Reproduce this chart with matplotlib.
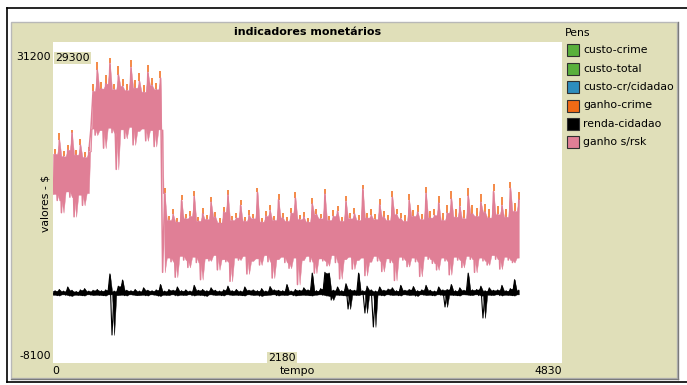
import numpy as np
import matplotlib
matplotlib.use("Agg")
import matplotlib.pyplot as plt
from matplotlib.patches import Rectangle
from matplotlib.lines import Line2D

# ---------------- data ----------------
title = "indicadores monetários"
x_label = "tempo"
y_label = "valores - $"
x_min, x_max = 0, 4830
y_min, y_max = -8100, 31200
pens = ["custo-crime", "custo-total", "custo-cr/cidadao", "ganho-crime", "renda-cidadao", "ganho s/rsk"]
pen_colors = ["#59B03C", "#59B03C", "#2D8DBE", "#F16A15", "#000000", "#E07F96"]

bin_width = 40   # ticks per sampled bin

# ganho s/rsk (pink) – per-bin highs and lows
pink_hi = [17500, 19200, 17200, 18000, 20100, 17400, 18600, 17100, 17800,
           25200, 27800, 25500, 26100, 28600, 25400, 27200, 25800, 25300,
           28100, 25600, 26400, 25100, 27500, 25900, 25400, 26800,
           12700, 9400, 10100, 9200, 11800, 9600, 9900, 12300, 9300, 10200,
           9500, 11600, 9800, 9100, 10400, 12500, 9400, 9700, 11200, 9300,
           10000, 9600, 12800, 9200, 9900, 10600, 9400, 11900, 9700, 9300,
           10300, 12100, 9500, 9800, 9200, 11400, 10100, 9600, 12600, 9400,
           9900, 10500, 9300, 11700, 9600, 10200, 9400, 13200, 9700, 10000,
           9500, 11300, 9800, 9400, 12200, 10100, 9600, 9300, 11800, 9900,
           10400, 9500, 12700, 9700, 10000, 11500, 9400, 10300, 12000, 9800,
           11100, 9600, 12400, 10200, 9900, 11600, 10400, 9700, 12900, 10100,
           11200, 9800, 13300, 10500, 11900]
pink_lo = [12600, 11800, 10300, 12900, 12200, 9800, 12500, 11200, 12700,
           20600, 19800, 20400, 18200, 20700, 20100, 15600, 20500, 19400,
           20800, 18600, 20300, 20600, 19100, 20400, 18400, 20500,
           3000, 4800, 4300, 2400, 5000, 4500, 3600, 4900, 4200, 2100,
           4700, 4400, 5100, 3300, 4600, 4300, 1900, 4800, 4500, 5000,
           2800, 4400, 4700, 3900, 5100, 4300, 2300, 4600, 4900, 4200,
           3500, 4800, 1500, 4500, 5000, 4300, 2900, 4700, 4400, 3800,
           5100, 4200, 2200, 4600, 4900, 3400, 4500, 4800, 2600, 4300,
           5000, 4400, 3100, 4700, 4200, 2000, 4900, 4500, 3700, 4800,
           4300, 2500, 5000, 4600, 4100, 3300, 4800, 4400, 2700, 4900,
           4500, 3600, 5000, 4600, 3000, 4800, 4400, 3900, 5100, 4600,
           3400, 4900, 4500, 4200, 4800]
# ganho-crime (orange) – per-bin highs (the rest of the trace lies under the pink band)
orange_hi = [18100, 20100, 17800, 18600, 20400, 18000, 19300, 17700, 18400,
             26000, 28700, 26300, 27200, 29300, 26100, 28300, 26700, 26000,
             29000, 26500, 27400, 25900, 28400, 26800, 26200, 27700,
             13300, 9900, 10700, 9700, 12500, 10100, 10500, 12900, 9800, 10900,
             10000, 12200, 10400, 9600, 11000, 13100, 9900, 10300, 11900, 9800,
             10600, 10200, 13300, 9700, 10500, 11200, 9900, 12600, 10300, 9800,
             10900, 12800, 10000, 10400, 9700, 12100, 10800, 10200, 13200, 9900,
             10600, 11100, 9800, 12300, 10300, 10900, 10000, 13700, 10300, 10700,
             10100, 12000, 10500, 10000, 12900, 10800, 10300, 10000, 12600, 10600,
             11200, 10200, 13400, 10500, 10800, 12400, 10300, 11200, 12900, 10700,
             12100, 10600, 13300, 11200, 10900, 12600, 11400, 10700, 13800, 11100,
             12200, 10800, 14000, 11500, 12800]
# renda-cidadao (black)
black_hi = [750, 900, 700, 1200, 800, 650, 850, 1000, 700, 800,
            900, 750, 850, 2800, 700, 1300, 2050, 800, 750, 900,
            700, 1100, 800, 750, 850, 1500, 700, 900, 800, 1200,
            750, 850, 700, 1400, 800, 900, 750, 1100, 800, 700,
            850, 1300, 750, 900, 700, 1200, 800, 850, 750, 1000,
            700, 1250, 850, 800, 750, 1500, 700, 900, 800, 1100,
            850, 2900, 750, 1000, 3000, 2900, 800, 1200, 750, 1600,
            900, 800, 2900, 750, 1300, 850, 700, 1200, 800, 950,
            1100, 750, 1400, 800, 900, 1250, 750, 850, 1400, 800,
            700, 1200, 850, 900, 1500, 750, 1100, 800, 2900, 850,
            900, 1300, 750, 1100, 800, 850, 1400, 750, 1000, 2100, 800]
black_lo = [250, 150, 300, 200, 100, 250, 200, 150, 300, 200,
            250, 200, 150, 300, -4670, 200, 250, 150, 300, 200,
            200, 250, 150, 300, 200, 100, 250, 200, 300, 150,
            250, 200, 300, 150, 250, 200, 100, 300, 200, 250,
            150, 300, 200, 250, 200, 150, 300, 200, 250, 100,
            200, 250, 300, 150, 250, 200, 300, 150, 200, 250,
            200, 150, 250, 300, 200, 100, -390, 250, 200, 150,
            -1490, 250, 200, 300, -1980, 200, -3690, 250, 150, 300,
            200, 250, 150, 300, 200, 250, 100, 300, 200, 250,
            150, 300, 200, -1240, 250, 200, 150, 300, 250, 200,
            300, 150, -2590, 250, 200, 300, 150, 250, 200, 150, 300]
marker_top = "29300"
marker_bottom = "2180"

# ---------------- figure ----------------
W, H = 687, 385
fig = plt.figure(figsize=(W / 100, H / 100), dpi=100)
fig.patch.set_facecolor("white")
plt.rcParams["font.family"] = ["DejaVu Sans"]

def fx(x):
    return x / W

def fy(y):
    return 1 - y / H

beige = "#E0DFB9"
# outer black frame
for (x0, y0, x1, y1) in [(6.5, 7.5, 687, 7.5), (6.5, 7.5, 6.5, 381.5), (6.5, 381.5, 687, 381.5)]:
    fig.add_artist(Line2D([fx(x0), fx(x1)], [fy(y0), fy(y1)], color="black", lw=1.2, zorder=-2))
# beige panel
fig.add_artist(Rectangle((fx(11), fy(378)), fx(677) - fx(11), fy(22) - fy(378),
                         facecolor=beige, edgecolor="#B8B8B8", lw=1.0, zorder=-2))
fig.add_artist(Line2D([fx(677.5), fx(677.5)], [fy(22), fy(378.5)], color="#7A7A7A", lw=1.0, zorder=-1))
fig.add_artist(Line2D([fx(11), fx(677.5)], [fy(378.5), fy(378.5)], color="#7A7A7A", lw=1.0, zorder=-1))

ax = fig.add_axes([fx(53), fy(363), fx(562) - fx(53), fy(42) - fy(363)])
ax.set_zorder(1)
ax.set_facecolor("white")
ax.set_xlim(x_min, x_max)
ax.set_ylim(y_min, y_max)
ax.set_xticks([])
ax.set_yticks([])
for s in ax.spines.values():
    s.set_visible(False)

n = len(pink_hi)
t_a = np.arange(n) * bin_width          # bin edges
t_b = t_a + bin_width / 2               # bin centres (extreme values)
tt = np.column_stack([t_a, t_b]).ravel()

def band_edges(lo, hi):
    lo = np.asarray(lo, float)
    hi = np.asarray(hi, float)
    prev_hi = np.concatenate([[hi[0]], hi[:-1]])
    prev_lo = np.concatenate([[lo[0]], lo[:-1]])
    upper = np.column_stack([np.minimum(prev_hi, hi), hi]).ravel()
    lower = np.column_stack([np.maximum(prev_lo, lo), lo]).ravel()
    return lower, upper

def zigzag(lo, hi):
    return np.column_stack([lo, hi]).ravel()

# ganho-crime: only its tips rise above the pink band
ax.vlines(t_b, pink_hi, orange_hi, color=pen_colors[3], lw=1.1)
# renda-cidadao
lower, upper = band_edges(black_lo, black_hi)
ax.fill_between(tt, lower, upper, color=pen_colors[4], lw=0.3)
ax.plot(tt, zigzag(black_lo, black_hi), color=pen_colors[4], lw=0.8)
# ganho s/rsk
lower, upper = band_edges(pink_lo, pink_hi)
ax.fill_between(tt, lower, upper, color=pen_colors[5], lw=0.3)
ax.plot(tt, zigzag(pink_lo, pink_hi), color=pen_colors[5], lw=1.1)

fs = 7.8
# title
fig.text(fx(308), fy(32), title, ha="center", va="center", fontsize=8.0, fontweight="bold", zorder=3)
# axis extent labels
fig.text(fx(51), fy(57), f"{y_max}", ha="right", va="center", fontsize=fs, zorder=3)
fig.text(fx(51), fy(356), f"{y_min}", ha="right", va="center", fontsize=fs, zorder=3)
fig.text(fx(56), fy(371), f"{x_min}", ha="center", va="center", fontsize=fs, zorder=3)
fig.text(fx(548), fy(371), f"{x_max}", ha="center", va="center", fontsize=fs, zorder=3)
fig.text(fx(297), fy(371), x_label, ha="center", va="center", fontsize=fs, zorder=3)
fig.text(fx(45), fy(203), y_label, ha="center", va="center", rotation=90, fontsize=fs, zorder=3)
# marker labels
fig.text(fx(55), fy(58), marker_top, ha="left", va="center", fontsize=fs, zorder=3,
         bbox=dict(facecolor=beige, edgecolor="none", pad=0.8))
fig.text(fx(268), fy(358), marker_bottom, ha="left", va="center", fontsize=fs, zorder=3,
         bbox=dict(facecolor=beige, edgecolor="none", pad=0.8))

# legend
fig.text(fx(565), fy(33), "Pens", ha="left", va="center", fontsize=fs, zorder=3)
for i, (name, col) in enumerate(zip(pens, pen_colors)):
    yc = 50 + i * 18.5
    fig.add_artist(Rectangle((fx(567), fy(yc + 6)), fx(12), fy(0) - fy(12),
                             facecolor=col, edgecolor="#303030", lw=0.8, zorder=3))
    fig.text(fx(583), fy(yc), name, ha="left", va="center", fontsize=fs, zorder=3)

fig.savefig("out.png", dpi=100, facecolor="white")
